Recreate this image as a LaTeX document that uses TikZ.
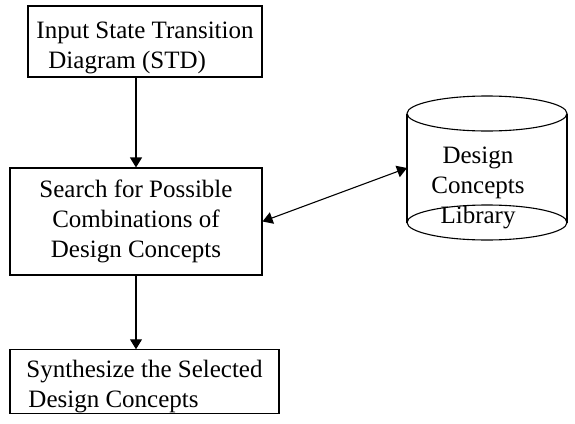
\documentclass[tikz,border=0pt]{standalone}
\usepackage{fontspec}
\setmainfont{Liberation Serif}
\usetikzlibrary{arrows.meta}
\begin{document}
\begin{tikzpicture}[x=1pt, y=-1pt, line width=1.1pt,
    box/.style={draw, rectangle, inner sep=0pt, font=\fontsize{25}{30}\selectfont},
    lbl/.style={inner sep=0pt, align=center, font=\fontsize{25}{30}\selectfont},
    flow/.style={-{Triangle[width=12pt,length=10pt]}},
    both/.style={{Triangle[width=12pt,length=10pt]}-{Triangle[width=12pt,length=10pt]}}]
  \useasboundingbox (0,0) rectangle (575,423);
  \node[box, align=left, minimum width=234pt, minimum height=71pt] (input) at (145,41.5)
    {\rule{0pt}{30pt}Input State Transition\\\hspace*{12pt}Diagram (STD)};
  \node[box, align=center, minimum width=252pt, minimum height=107pt] (search) at (136,221.5)
    {Search for Possible\\Combinations of\\Design Concepts};
  \node[box, align=left, minimum width=269pt, minimum height=63pt] (synth) at (144.5,381.5)
    {\rule{0pt}{28pt}Synthesize the Selected\\\hspace*{2pt}Design Concepts};
  % library cylinder
  \draw (487,113.5) ellipse (80 and 17.5);
  \draw (407,113.5) -- (407,222.5);
  \draw (567,113.5) -- (567,222.5);
  \draw (487,222.5) ellipse (80 and 17.5);
  \node[lbl] (lib) at (478,188) {Design\\Concepts\\Library};
  \coordinate (libin) at (407,168);
  \draw[flow] (input.south -| search) -- (search);
  \draw[flow] (search) -- (synth.north -| search);
  \draw[both] (search.east) -- (libin);
\end{tikzpicture}
\end{document}
